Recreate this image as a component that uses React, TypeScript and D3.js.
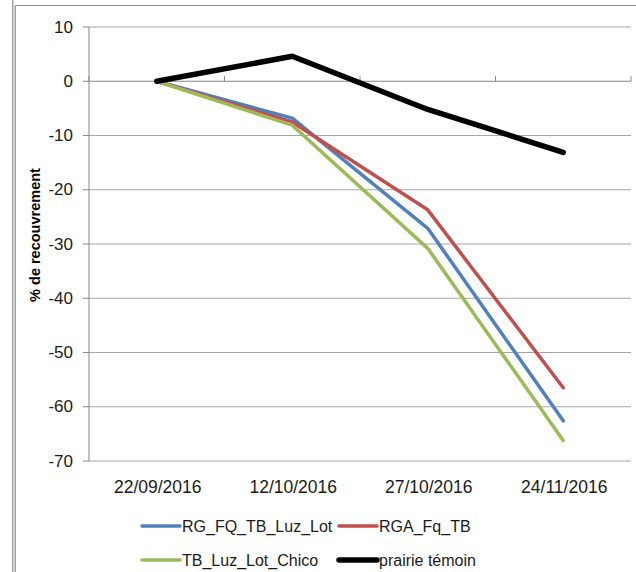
import React from "react";
import * as d3 from "d3";

const categories = ["22/09/2016", "12/10/2016", "27/10/2016", "24/11/2016"];
const rgFqTbLuzLot = [0, -6.8, -27.1, -62.6];
const rgaFqTb = [0, -7.5, -23.7, -56.5];
const tbLuzLotChico = [0, -8.1, -30.8, -66.2];
const prairieTemoin = [0, 4.6, -5.2, -13.1];
const yTicks = [10, 0, -10, -20, -30, -40, -50, -60, -70];

const series = [
  { name: "RG_FQ_TB_Luz_Lot", values: rgFqTbLuzLot, color: "#4F81BD", width: 3.5 },
  { name: "RGA_Fq_TB", values: rgaFqTb, color: "#C0504D", width: 3.5 },
  { name: "TB_Luz_Lot_Chico", values: tbLuzLotChico, color: "#9BBB59", width: 3.5 },
  { name: "prairie témoin", values: prairieTemoin, color: "#000000", width: 5.5 },
];

const FONT = "'Liberation Sans', Arial, sans-serif";

export default function App() {
  const left = 89, right = 631, top = 27, bottom = 461;
  const x = d3.scaleBand<string>().domain(categories).range([left, right]).paddingInner(0).paddingOuter(0);
  const y = d3.scaleLinear().domain([-70, 10]).range([bottom, top]);
  const cx = (c: string) => (x(c) as number) + x.bandwidth() / 2;
  const line = d3
    .line<number>()
    .x((_, i) => cx(categories[i]))
    .y((d) => y(d));
  const boundaries = d3.range(categories.length + 1).map((i) => left + i * x.bandwidth());

  const legendItems = [
    { s: series[0], lx: 142, ly: 526 },
    { s: series[1], lx: 339, ly: 526 },
    { s: series[2], lx: 142, ly: 560 },
    { s: series[3], lx: 339, ly: 560 },
  ];

  return (
    <svg
      width={636}
      height={572}
      style={{ position: "absolute", left: 0, top: 0, background: "#fff" }}
      fontFamily={FONT}
    >
      <rect x={0} y={0} width={636} height={572} fill="#fff" />
      {/* frame */}
      <line x1={12.8} y1={0} x2={12.8} y2={572} stroke="#8c8c8c" strokeWidth={1.2} />
      <line x1={15.2} y1={5.5} x2={15.2} y2={572} stroke="#8c8c8c" strokeWidth={1.2} />
      <line x1={15.2} y1={5.5} x2={636} y2={5.5} stroke="#8c8c8c" strokeWidth={1.2} />

      {/* gridlines */}
      {yTicks
        .filter((t) => t !== 0)
        .map((t) => (
          <line key={t} x1={left} x2={right} y1={y(t)} y2={y(t)} stroke="#a6a6a6" strokeWidth={1} />
        ))}
      {/* y axis */}
      <line x1={left} x2={left} y1={top} y2={bottom} stroke="#868686" strokeWidth={1} />
      {yTicks.map((t) => (
        <g key={"yt" + t}>
          <line x1={left - 6} x2={left} y1={y(t)} y2={y(t)} stroke="#868686" strokeWidth={1} />
          <text
            x={73}
            y={y(t)}
            textAnchor="end"
            dominantBaseline="central"
            fontSize={17}
            fill="#1a1a1a"
          >
            {t}
          </text>
        </g>
      ))}
      {/* x axis at 0 */}
      <line x1={left} x2={right} y1={y(0)} y2={y(0)} stroke="#868686" strokeWidth={1} />
      {boundaries.map((b, i) => (
        <line key={"b" + i} x1={b} x2={b} y1={y(0) - 5} y2={y(0)} stroke="#868686" strokeWidth={1} />
      ))}
      {categories.map((c) => (
        <text key={c} x={cx(c) + 1} y={487} textAnchor="middle" dominantBaseline="central" fontSize={17.5} fill="#1a1a1a">
          {c}
        </text>
      ))}

      {/* y title */}
      <text
        transform={`translate(35, 235) rotate(-90)`}
        textAnchor="middle"
        dominantBaseline="central"
        fontSize={14.5}
        fontWeight="bold"
      >
        % de recouvrement
      </text>

      {/* series */}
      {series.map((s) => (
        <path
          key={s.name}
          d={line(s.values) as string}
          fill="none"
          stroke={s.color}
          strokeWidth={s.width}
          strokeLinejoin="round"
          strokeLinecap="round"
        />
      ))}

      {/* legend */}
      {legendItems.map(({ s, lx, ly }) => (
        <g key={"lg" + s.name}>
          <line
            x1={lx}
            x2={lx + 38}
            y1={ly}
            y2={ly}
            stroke={s.color}
            strokeWidth={s.width}
            strokeLinecap="round"
          />
          <text x={lx + 40} y={ly} dominantBaseline="central" fontSize={16} fill="#1a1a1a">
            {s.name}
          </text>
        </g>
      ))}
    </svg>
  );
}
